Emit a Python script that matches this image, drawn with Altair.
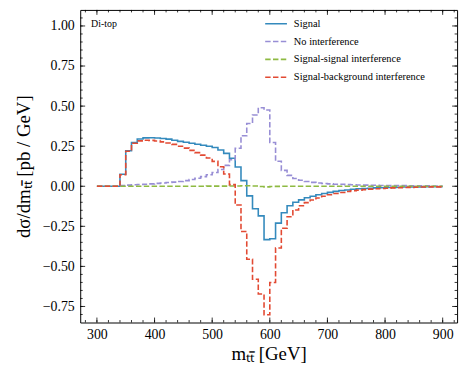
import altair as alt
import pandas as pd

# bin edges (GeV), 10 GeV bins from 300 to 900
edges = list(range(300, 910, 10))

signal = [0, 0, 0, 0, 0.075, 0.222, 0.273, 0.295, 0.302, 0.303,
          0.301, 0.298, 0.294, 0.287, 0.280, 0.274, 0.268, 0.262, 0.256, 0.250,
          0.242, 0.226, 0.205, 0.175, 0.120, 0.035, -0.060, -0.140, -0.185, -0.333,
          -0.327, -0.230, -0.165, -0.122, -0.100, -0.085, -0.072, -0.062, -0.053, -0.045,
          -0.038, -0.032, -0.027, -0.023, -0.019, -0.016, -0.014, -0.012, -0.010, -0.009,
          -0.008, -0.007, -0.006, -0.005, -0.005, -0.004, -0.004, -0.003, -0.003, -0.003]

no_interf = [0, 0, 0, 0, 0.004, 0.007, 0.009, 0.011, 0.013, 0.015,
             0.018, 0.020, 0.023, 0.026, 0.030, 0.035, 0.042, 0.050, 0.060, 0.072,
             0.086, 0.104, 0.130, 0.165, 0.237, 0.315, 0.392, 0.445, 0.490, 0.476,
             0.273, 0.156, 0.099, 0.068, 0.048, 0.037, 0.030, 0.024, 0.020, 0.017,
             0.015, 0.013, 0.012, 0.010, 0.009, 0.008, 0.007, 0.006, 0.006, 0.005,
             0.005, 0.004, 0.004, 0.004, 0.003, 0.003, 0.003, 0.003, 0.002, 0.002]

ss_interf = [0, 0, 0, 0, 0, 0, 0, 0, 0, 0,
             0, 0, 0, 0, 0, 0, 0, 0, 0, 0.001,
             0.001, 0.001, 0.001, 0.002, 0.002, 0.003, 0.003, 0.002, -0.002, -0.004,
             -0.002, -0.001, 0, 0, 0, 0, 0, 0, 0, 0,
             0, 0, 0, 0, 0, 0, 0, 0, 0, 0,
             0, 0, 0, 0, 0, 0, 0, 0, 0, 0]

sb_interf = [0, 0, 0, 0, 0.072, 0.218, 0.268, 0.283, 0.287, 0.286,
             0.282, 0.277, 0.270, 0.261, 0.250, 0.238, 0.224, 0.210, 0.194, 0.176,
             0.155, 0.122, 0.076, 0.010, -0.117, -0.282, -0.455, -0.580, -0.672, -0.802,
             -0.600, -0.385, -0.262, -0.190, -0.148, -0.122, -0.102, -0.086, -0.073, -0.062,
             -0.053, -0.045, -0.039, -0.033, -0.028, -0.024, -0.021, -0.018, -0.016, -0.014,
             -0.012, -0.010, -0.009, -0.008, -0.007, -0.006, -0.005, -0.005, -0.004, -0.004]

series_names = ["Signal", "No interference", "Signal-signal interference",
                "Signal-background interference"]
series_vals = [signal, no_interf, ss_interf, sb_interf]
series_colors = ["#348ABD", "#988ED5", "#8EBA42", "#E24A33"]

x_major = [300, 400, 500, 600, 700, 800, 900]
x_minor = list(range(280, 921, 20))
y_major = [-0.75, -0.5, -0.25, 0.0, 0.25, 0.5, 0.75, 1.0]
y_minor = [round(-0.8 + 0.05 * i, 2) for i in range(38)]

rows = []
for name, vals in zip(series_names, series_vals):
    for i, e in enumerate(edges):
        v = vals[i] if i < len(vals) else vals[-1]
        rows.append({"m": e, "v": v, "series": name})
df = pd.DataFrame(rows)

W, H = 381, 316
FONT = "Liberation Serif"
xscale = alt.Scale(domain=[271, 925], nice=False, zero=False)
yscale = alt.Scale(domain=[-0.85, 1.1], nice=False, zero=False)

leg = alt.Legend(title=None, orient="none", legendX=186, legendY=2,
                 symbolType="stroke", symbolSize=484,
                 symbolStrokeWidth=1.6, labelFont=FONT,
                 labelFontSize=10.5, labelOffset=6, rowPadding=-1)
color = alt.Color("series:N", scale=alt.Scale(domain=series_names, range=series_colors),
                  legend=leg)
dash = alt.StrokeDash("series:N",
                      scale=alt.Scale(domain=series_names,
                                      range=[[1, 0], [5.5, 2.4], [5.5, 2.4], [5.5, 2.4]]),
                      legend=leg)

xaxis = alt.Axis(values=x_major, ticks=False, domain=False, grid=False,
                 title="mₜₜ̄ [GeV]", labelFont=FONT, labelFontSize=14,
                 labelPadding=5, labelColor="black",
                 titleFont=FONT, titleFontSize=19, titleFontWeight="normal",
                 titleColor="black", titlePadding=3)
yaxis = alt.Axis(values=y_major, format=".2f", ticks=False, domain=False, grid=False,
                 title="dσ/dmₜₜ̄ [pb / GeV]", labelFont=FONT, labelFontSize=14,
                 labelPadding=6, labelColor="black",
                 titleFont=FONT, titleFontSize=19, titleFontWeight="normal",
                 titleColor="black", titlePadding=9)

layers = []
for name in series_names:
    layers.append(
        alt.Chart(df).transform_filter(alt.datum.series == name)
        .mark_line(interpolate="step-after", strokeWidth=1.6)
        .encode(x=alt.X("m:Q", scale=xscale, axis=xaxis),
                y=alt.Y("v:Q", scale=yscale, axis=yaxis),
                color=color, strokeDash=dash)
    )

tick_style = dict(color="black", strokeWidth=0.8)
xmaj = pd.DataFrame({"t": x_major})
xmin = pd.DataFrame({"t": x_minor})
ymaj = pd.DataFrame({"t": y_major})
ymin = pd.DataFrame({"t": y_minor})

def xt(d, length, bottom=True):
    yv = H if bottom else 0
    y2 = H - length if bottom else length
    return alt.Chart(d).mark_rule(**tick_style).encode(
        x=alt.X("t:Q", scale=xscale), y=alt.value(yv), y2=alt.value(y2))

def yt(d, length, left=True):
    xv = 0 if left else W
    x2 = length if left else W - length
    return alt.Chart(d).mark_rule(**tick_style).encode(
        y=alt.Y("t:Q", scale=yscale), x=alt.value(xv), x2=alt.value(x2))

ticks = [xt(xmaj, 5, True), xt(xmaj, 5, False), xt(xmin, 2.5, True), xt(xmin, 2.5, False),
         yt(ymaj, 5, True), yt(ymaj, 5, False), yt(ymin, 2.5, True), yt(ymin, 2.5, False)]

label = alt.Chart(pd.DataFrame({"txt": ["Di-top"]})).mark_text(
    font=FONT, fontSize=10, align="left", baseline="middle", color="black"
).encode(text="txt:N", x=alt.value(11), y=alt.value(14))

chart = alt.layer(*layers, *ticks, label).properties(
    width=W, height=H, padding={"left": 73, "top": 0, "right": 8, "bottom": 40},
    autosize=alt.AutoSizeParams(type="none")
).configure(font=FONT
).configure_view(stroke="black", strokeWidth=1
).configure_legend(labelFont=FONT, labelFontSize=10.5, labelColor="black")

chart.save("out.html", embed_options={"renderer": "svg", "actions": False})
